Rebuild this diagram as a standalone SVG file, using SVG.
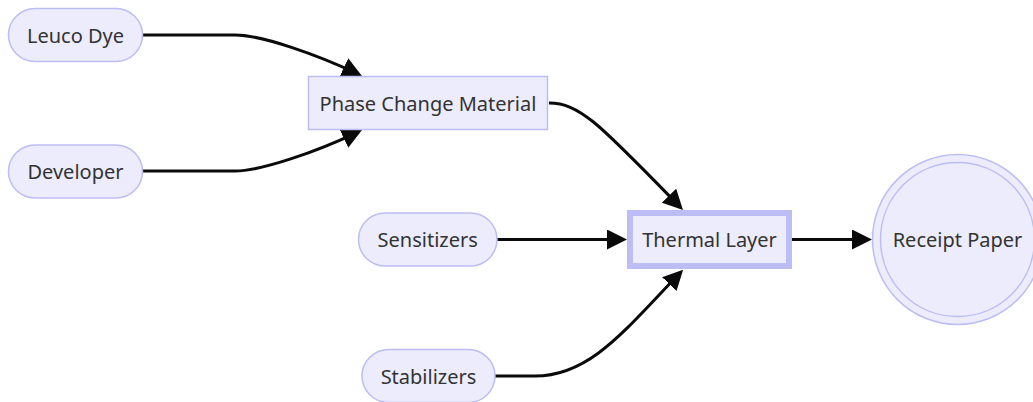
<svg xmlns="http://www.w3.org/2000/svg" width="1033" height="402" viewBox="0 0 1033 402">
<style>
.n{fill:#ececfc;stroke:#bdbdf5;stroke-width:1.5}
.t{font-family:"Noto Sans","Open Sans",sans-serif;font-size:20px;fill:#333;text-anchor:middle;dominant-baseline:central}
.e{fill:none;stroke:#0a0a0a;stroke-width:3;marker-end:url(#ah)}
</style>
<defs>
<marker id="ah" viewBox="0 0 20 20" refX="14" refY="10" markerWidth="20" markerHeight="20" markerUnits="userSpaceOnUse" orient="auto">
<path d="M0,0 L20,10 L0,20 z" fill="#0a0a0a"/>
</marker>
</defs>
<rect width="1033" height="402" fill="#fff"/>
<g id="edges">
<path class="e" d="M143,35 L235,35 C262,35 318,55 356.6,73.4"/>
<path class="e" d="M143,171 L235,171 C262,171 318,151 356.6,132.6"/>
<path class="e" d="M549,103 C580,103 600,125 678.8,205.7"/>
<path class="e" d="M497,239.5 L621,239.5"/>
<path class="e" d="M495,376 L535,376 C590,376 625,330 679,274"/>
<path class="e" d="M792,239.5 L866,239.5"/>
</g>
<g id="leuco"><rect class="n" x="8.5" y="8.5" width="134" height="53" rx="26.5"/><text class="t" x="75.5" y="35">Leuco Dye</text></g>
<g id="developer"><rect class="n" x="8.5" y="145" width="134" height="53" rx="26.5"/><text class="t" x="75.5" y="171.5">Developer</text></g>
<g id="pcm"><rect class="n" x="308.5" y="76.5" width="239" height="53"/><text class="t" x="428" y="103">Phase Change Material</text></g>
<g id="sensitizers"><rect class="n" x="358.5" y="213" width="138.5" height="53" rx="26.5"/><text class="t" x="427.7" y="239.5">Sensitizers</text></g>
<g id="stabilizers"><rect class="n" x="362" y="349.5" width="133" height="53" rx="26.5"/><text class="t" x="428.5" y="376">Stabilizers</text></g>
<g id="thermal"><rect x="630" y="213" width="159" height="53" fill="#ececfc" stroke="#bdbdf5" stroke-width="6"/><text class="t" x="709.5" y="239.5">Thermal Layer</text></g>
<g id="receipt"><circle class="n" cx="957.5" cy="239.5" r="85"/><circle class="n" cx="957.5" cy="239.5" r="77"/><text class="t" x="957.5" y="239.5">Receipt Paper</text></g>
</svg>
